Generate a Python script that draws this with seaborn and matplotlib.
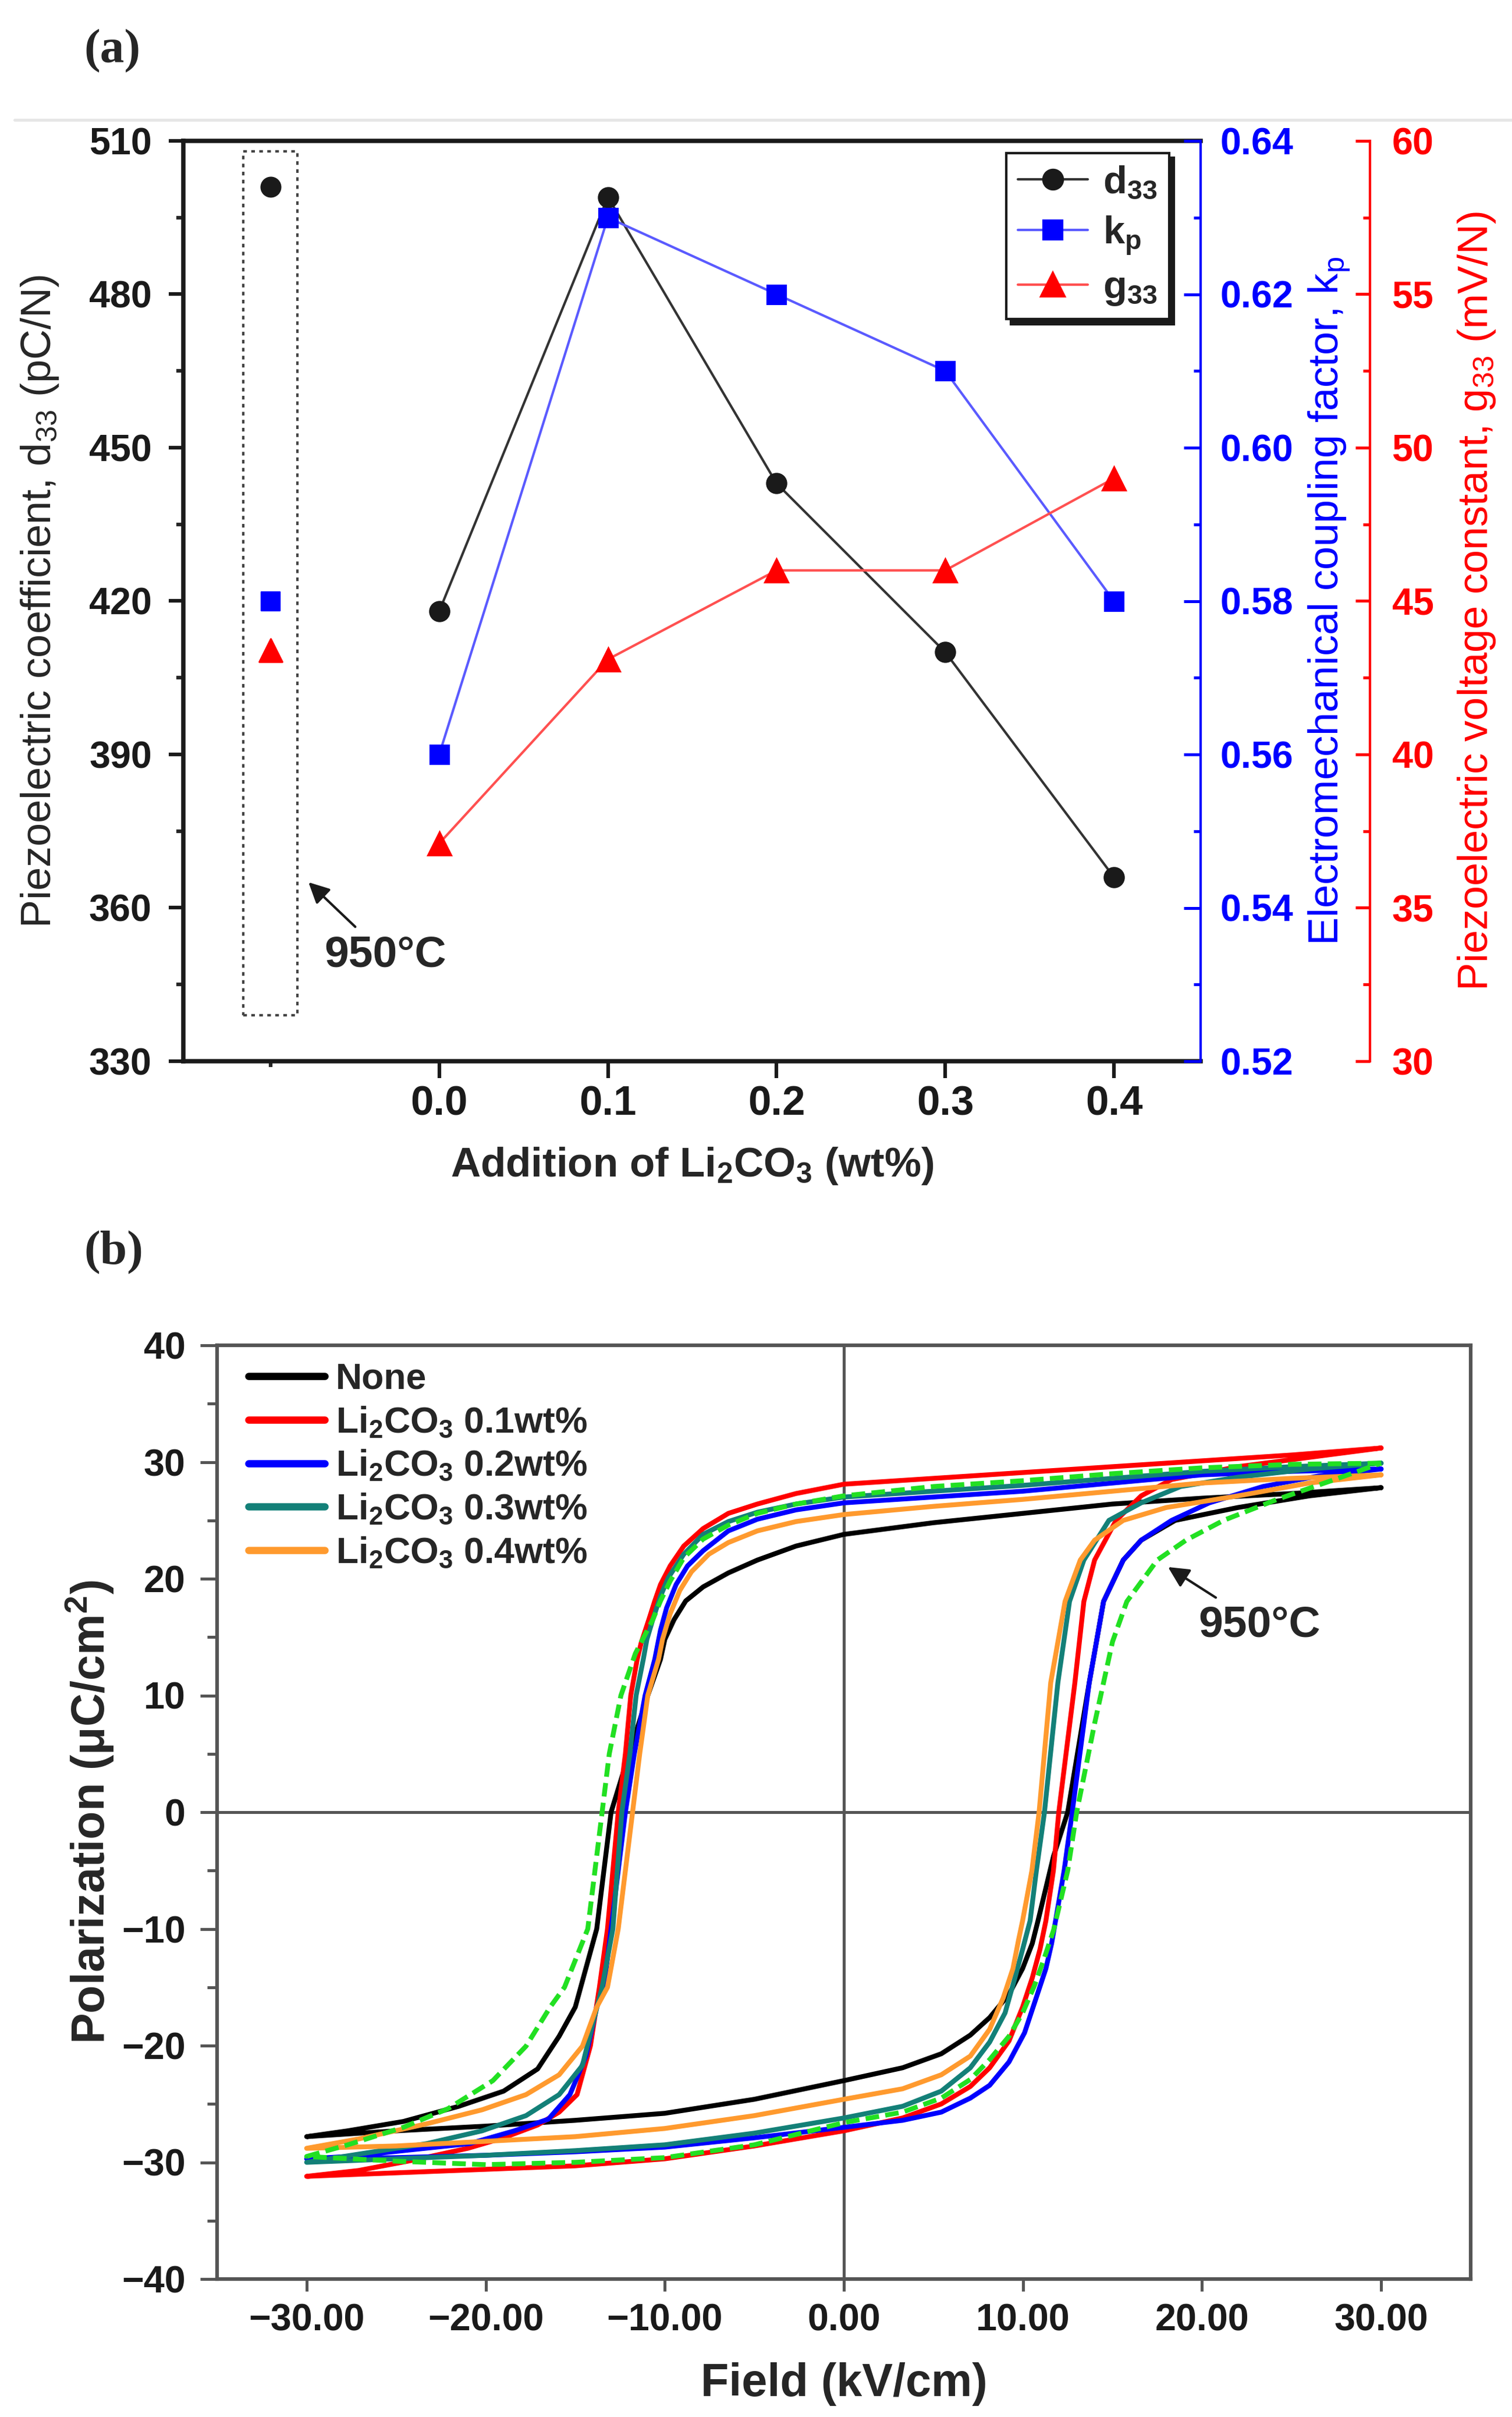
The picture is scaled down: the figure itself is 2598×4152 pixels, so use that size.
import numpy as np
import pandas as pd
import matplotlib
matplotlib.use("Agg")
import matplotlib.pyplot as plt
import seaborn as sns
from matplotlib.lines import Line2D
from matplotlib.patches import Rectangle
from matplotlib.ticker import MultipleLocator, FixedLocator, FormatStrFormatter, FuncFormatter

# ---------------- data: panel (a) ----------------
li2co3_wt = [0.0, 0.1, 0.2, 0.3, 0.4]
d33 = [418, 499, 443, 410, 366]
kp = [0.560, 0.630, 0.620, 0.610, 0.580]
g33 = [37.1, 43.1, 46.0, 46.0, 49.0]

# sample sintered at 950C (no Li2CO3), drawn left of the 0.0 tick
x_950 = -0.1
d33_950 = 501
kp_950 = 0.580
g33_950 = 43.4

# ---------------- data: panel (b) P-E loops, (E kV/cm, P uC/cm2) ----------------
# upper branch from +30 down to -30, then lower branch back up to +30
loop_none = [(30, 27.8), (25, 27.3), (20, 26.9), (15, 26.4), (10, 25.6), (5, 24.8), (0, 23.8),
             (-2.67, 22.8), (-4.83, 21.6), (-6.45, 20.5), (-7.86, 19.3), (-8.83, 18.1), (-9.48, 16.5),
             (-10.0, 14.8), (-10.24, 13.1), (-10.95, 10), (-12.0, 5), (-13.0, 0), (-13.8, -10),
             (-15.0, -16.7), (-15.9, -19.2), (-17.1, -22.0), (-19.0, -23.9), (-21.5, -25.2),
             (-24.6, -26.5), (-27.7, -27.3), (-30, -27.8),
             (-25, -27.3), (-20, -26.9), (-15, -26.4), (-10, -25.8), (-5, -24.6), (0, -23.0),
             (3.28, -21.9), (5.44, -20.7), (7.06, -19.1), (8.14, -17.6), (9.22, -15.6), (9.98, -13.4),
             (10.52, -11.25), (10.84, -9.3), (11.7, -3.8), (12.5, 0), (13.7, 11.1), (14.5, 18.05),
             (15.6, 21.6), (16.6, 23.3), (18.5, 25.0), (22.0, 26.1), (26, 27.1), (30, 27.8)]

loop_wt01 = [(30, 31.2), (25, 30.6), (20, 30.1), (15, 29.6), (10, 29.1), (5, 28.6), (0, 28.1),
             (-2.67, 27.3), (-4.83, 26.4), (-6.45, 25.6), (-7.86, 24.3), (-8.94, 22.8), (-9.7, 21.1),
             (-10.24, 19.5), (-10.56, 18.1), (-10.89, 16.5), (-11.32, 14.5), (-11.54, 13.1),
             (-11.9, 10), (-12.2, 5), (-12.6, 0), (-13.2, -10), (-13.65, -15), (-14.15, -20),
             (-14.9, -24.2), (-15.9, -25.7), (-17.1, -26.8), (-19.0, -27.9), (-21.0, -28.8),
             (-24.0, -29.8), (-27.1, -30.7), (-30, -31.2),
             (-25, -30.9), (-20, -30.6), (-15, -30.3), (-10, -29.7), (-5, -28.6), (0, -27.3),
             (3.28, -26.2), (5.44, -25.0), (7.06, -23.5), (8.14, -21.9), (9.22, -19.6), (9.98, -16.7),
             (10.52, -14.2), (10.95, -11.75), (11.28, -9.3), (11.7, -5), (12.0, 0), (12.9, 11.1),
             (13.4, 18.05), (14.0, 21.6), (15.2, 25.0), (16.6, 27.1), (18.3, 28.5), (22, 29.6),
             (26, 30.4), (30, 31.2)]

loop_wt02 = [(30, 29.4), (25, 29.2), (20, 28.9), (15, 28.2), (10, 27.5), (5, 27.0), (0, 26.5),
             (-2.67, 25.9), (-4.83, 25.1), (-6.45, 24.1), (-7.86, 22.4), (-8.73, 21.1), (-9.37, 19.5),
             (-9.9, 17.5), (-10.24, 15.6), (-10.56, 13.1), (-11.1, 10), (-11.7, 5), (-12.2, 0),
             (-13.0, -10), (-13.4, -15), (-13.8, -16.7), (-14.4, -20.9), (-15.3, -24.2),
             (-16.5, -26.3), (-18.4, -27.3), (-20.9, -28.4), (-24.6, -29.0), (-27.7, -29.5),
             (-30, -29.7),
             (-25, -29.6), (-20, -29.4), (-15, -29.1), (-10, -28.7), (-5, -27.9), (0, -27.0),
             (3.28, -26.4), (5.44, -25.7), (7.06, -24.5), (8.14, -23.4), (9.22, -21.4), (10.09, -18.9),
             (10.74, -15.9), (11.28, -13.4), (11.6, -11.25), (11.82, -9.3), (12.3, -5), (12.75, 0),
             (13.7, 11.1), (14.5, 18.05), (15.6, 21.6), (16.6, 23.3), (18.3, 25.0), (20.4, 26.5),
             (23.4, 27.9), (26.5, 28.8), (30, 29.4)]

loop_wt03 = [(30, 29.9), (25, 29.6), (20, 29.2), (15, 28.6), (10, 28.0), (5, 27.5), (0, 27.0),
             (-2.67, 26.4), (-4.83, 25.7), (-6.45, 24.9), (-7.86, 23.8), (-8.94, 22.1), (-9.8, 20.1),
             (-10.24, 18.5), (-10.67, 16.5), (-11.0, 14.8), (-11.2, 13.1), (-11.6, 10), (-11.95, 5),
             (-12.4, 0), (-12.9, -10), (-13.5, -15), (-14.0, -18), (-14.6, -21.7), (-15.9, -24.2),
             (-17.75, -26.0), (-20.2, -27.3), (-23.3, -28.4), (-27.1, -29.3), (-30, -30.0),
             (-25, -29.7), (-20, -29.4), (-15, -29.0), (-10, -28.5), (-5, -27.5), (0, -26.2),
             (3.28, -25.2), (5.44, -23.9), (7.06, -21.9), (8.14, -19.7), (9.0, -17.2), (9.55, -14.2),
             (9.98, -11.75), (10.4, -9.3), (10.75, -5), (11.2, 0), (11.95, 11.1), (12.6, 18.05),
             (13.4, 21.6), (14.8, 25.0), (16.6, 26.5), (18.8, 27.9), (22, 28.7), (26, 29.4), (30, 29.9)]

loop_wt04 = [(30, 28.9), (25, 28.6), (20, 28.2), (15, 27.5), (10, 26.8), (5, 26.2), (0, 25.5),
             (-2.67, 24.9), (-4.83, 24.1), (-6.45, 23.1), (-7.54, 22.1), (-8.51, 20.6), (-9.16, 19.0),
             (-9.7, 17.0), (-10.13, 14.8), (-10.35, 13.1), (-10.95, 10), (-11.4, 5), (-11.8, 0),
             (-12.6, -10), (-13.2, -15), (-13.8, -16.7), (-14.6, -20.05), (-15.9, -22.5),
             (-17.75, -24.2), (-20.2, -25.5), (-23.3, -26.7), (-27.1, -28.0), (-30, -28.8),
             (-25, -28.6), (-20, -28.2), (-15, -27.8), (-10, -27.1), (-5, -26.0), (0, -24.6),
             (3.28, -23.7), (5.44, -22.5), (7.06, -20.9), (8.14, -18.6), (8.9, -15.9), (9.44, -13.4),
             (9.76, -10.9), (9.98, -9.3), (10.5, -5), (10.9, 0), (11.55, 11.1), (12.35, 18.05),
             (13.2, 21.6), (14.0, 23.3), (15.6, 25.0), (18.0, 26.1), (22.0, 27.1), (26, 28.2), (30, 28.9)]

loop_950c = [(30, 29.9), (25, 29.8), (20, 29.5), (15, 29.0), (10, 28.4), (5, 27.9), (0, 27.1),
             (-2.67, 26.4), (-4.83, 25.6), (-6.45, 24.6), (-7.86, 23.4), (-8.94, 21.8), (-9.7, 19.8),
             (-10.24, 18.1), (-10.67, 16.5), (-11.64, 13.6), (-12.45, 10), (-13.1, 5), (-13.5, 0),
             (-14.3, -10), (-15.6, -15), (-16.4, -16.7), (-17.75, -20.05), (-19.6, -23.0),
             (-22.1, -25.4), (-24.6, -27.0), (-27.7, -28.5), (-30, -29.5),
             (-25, -29.9), (-20, -30.2), (-15, -30.0), (-10, -29.6), (-5, -28.5), (0, -26.6),
             (3.28, -25.7), (5.44, -24.5), (7.06, -22.9), (8.14, -21.2), (9.22, -19.2), (9.98, -17.2),
             (10.63, -14.9), (11.17, -12.6), (11.71, -10.1), (12.5, -5), (13.0, 0), (14.0, 7.6),
             (15.0, 14.6), (15.8, 18.05), (17.5, 21.6), (19.1, 23.3), (21.2, 25.0), (24.2, 26.8),
             (27.4, 28.5), (30, 29.9)]

loop_labels = ["None", "Li$_2$CO$_3$ 0.1wt%", "Li$_2$CO$_3$ 0.2wt%",
               "Li$_2$CO$_3$ 0.3wt%", "Li$_2$CO$_3$ 0.4wt%"]
loop_colors = ["#000000", "#ff0000", "#0000ff", "#138078", "#ff9a2e"]
c950_color = "#22e022"

# ---------------- style ----------------
sns.set_theme(style="ticks")
plt.rcParams["font.family"] = ["Liberation Sans", "DejaVu Sans"]
plt.rcParams["font.weight"] = "bold"
plt.rcParams["mathtext.default"] = "regular"

W, H = 2598, 4152
fig = plt.figure(figsize=(W / 300, H / 300), dpi=300)

# ================= panel (a) =================
ax = fig.add_axes([315 / W, 1 - 1823 / H, 1748 / W, 1581 / H])
ax2 = ax.twinx()
ax3 = ax.twinx()

sns.lineplot(x=li2co3_wt, y=d33, color="#333333", lw=1.0, marker="o", markersize=8,
             markerfacecolor="k", markeredgecolor="k", ax=ax)
sns.scatterplot(x=[x_950], y=[d33_950], marker="o", s=64, color="k", edgecolor="k", ax=ax)

sns.lineplot(x=li2co3_wt, y=kp, color="#5a5aff", lw=1.0, marker="s", markersize=7.5,
             markerfacecolor="#0000ff", markeredgecolor="#0000ff", ax=ax2)
sns.scatterplot(x=[x_950], y=[kp_950], marker="s", s=56, color="#0000ff", edgecolor="#0000ff", ax=ax2)

sns.lineplot(x=li2co3_wt, y=g33, color="#ff5050", lw=1.0, marker="^", markersize=9.5,
             markerfacecolor="#ff0000", markeredgecolor="#ff0000", ax=ax3)
sns.scatterplot(x=[x_950], y=[g33_950], marker="^", s=90, color="#ff0000", edgecolor="#ff0000", ax=ax3)

ax.set_xlim(-0.1517, 0.4514)
ax.set_ylim(330, 510)
ax2.set_ylim(0.52, 0.64)
ax3.set_ylim(30, 60)

ax.set_xticks(li2co3_wt)
ax.set_xticklabels([f"{v:.1f}" for v in li2co3_wt])
ax.xaxis.set_minor_locator(FixedLocator([x_950]))
ax.yaxis.set_major_locator(MultipleLocator(30))
ax.yaxis.set_minor_locator(MultipleLocator(15))
ax.tick_params(axis="y", which="major", direction="out", length=6, width=1.5, labelsize=15.5, pad=7,
               colors="k")
ax.tick_params(axis="y", which="minor", direction="out", length=3, width=1.5)
ax.tick_params(axis="x", which="major", direction="out", length=7, width=1.5, labelsize=17, pad=3,
               colors="k")
ax.tick_params(axis="x", which="minor", direction="out", length=2.5, width=1.5)
for s in ["left", "bottom", "top"]:
    ax.spines[s].set_linewidth(1.8)
    ax.spines[s].set_color("k")
ax.spines["right"].set_visible(False)

for a in (ax2, ax3):
    for s in ["left", "bottom", "top"]:
        a.spines[s].set_visible(False)

ax2.spines["right"].set_color("#0000ff")
ax2.spines["right"].set_linewidth(1.0)
ax2.yaxis.set_major_locator(MultipleLocator(0.02))
ax2.yaxis.set_minor_locator(MultipleLocator(0.01))
ax2.yaxis.set_major_formatter(FormatStrFormatter("%.2f"))
ax2.tick_params(axis="y", which="major", direction="in", length=7, width=1.2, labelsize=15.5, pad=8,
                colors="#0000ff")
ax2.tick_params(axis="y", which="minor", direction="in", length=3, width=1.2, colors="#0000ff")

ax3.spines["right"].set_position(("axes", 1.1665))
ax3.spines["right"].set_color("#ff0000")
ax3.spines["right"].set_linewidth(1.0)
ax3.yaxis.set_major_locator(MultipleLocator(5))
ax3.yaxis.set_minor_locator(MultipleLocator(2.5))
ax3.tick_params(axis="y", which="major", direction="in", length=6, width=1.2, labelsize=15.5, pad=9,
                colors="#ff0000")
ax3.tick_params(axis="y", which="minor", direction="in", length=3, width=1.2, colors="#ff0000")

ax.set_ylabel("Piezoelectric coefficient, d$_{33}$ (pC/N)", fontweight="normal", fontsize=17.3)
ax.yaxis.set_label_coords(-0.1207, 0.5)
ax2.set_ylabel("Electromechanical coupling factor, k$_{p}$", fontweight="normal", fontsize=17.3,
               color="#0000ff")
ax2.yaxis.set_label_coords(1.104, 0.5)
ax3.set_ylabel("Piezoelectric voltage constant, g$_{33}$ (mV/N)", fontweight="normal", fontsize=17.3,
               color="#ff0000")
ax3.yaxis.set_label_coords(1.251, 0.5)
ax.set_xlabel("Addition of Li$_2$CO$_3$ (wt%)", fontsize=17, fontweight="bold", labelpad=9)

# dotted box around the 950C sample
ax.add_patch(Rectangle((x_950 - 0.016, 339), 0.032, 169, fill=False, ls=(0, (1.5, 1.8)),
                       lw=1.0, ec="#444444", zorder=1))
ax.annotate("950°C", xy=(-0.0775, 365), xytext=(-0.032, 350.7), ha="center", va="center",
            fontsize=18, fontweight="bold",
            arrowprops=dict(arrowstyle="-|>", color="k", lw=1.0, mutation_scale=18, shrinkA=2, shrinkB=0))

handles_a = [
    Line2D([], [], color="#333333", lw=1.0, marker="o", ms=8, mfc="k", mec="k"),
    Line2D([], [], color="#5a5aff", lw=1.0, marker="s", ms=7.5, mfc="#0000ff", mec="#0000ff"),
    Line2D([], [], color="#ff5050", lw=1.0, marker="^", ms=9.5, mfc="#ff0000", mec="#ff0000"),
]
leg_a = ax3.legend(handles_a, ["d$_{33}$", "k$_{p}$", "g$_{33}$"], loc="upper right",
                   bbox_to_anchor=(0.969, 0.9867), frameon=True, fancybox=False, framealpha=1,
                   shadow={"color": "k", "alpha": 1}, edgecolor="k", fontsize=16,
                   handlelength=1.8, handletextpad=0.4, borderpad=0.3, labelspacing=0.35,
                   borderaxespad=0)
leg_a.get_frame().set_linewidth(1.0)

# ================= panel (b) =================
axb = fig.add_axes([373 / W, 1 - 3915 / H, 2154 / W, 1604 / H])
axb.axhline(0, color="#555555", lw=1.2, zorder=0)
axb.axvline(0, color="#555555", lw=1.2, zorder=0)

loops = [loop_none, loop_wt01, loop_wt02, loop_wt03, loop_wt04]
for loop, c in zip(loops, loop_colors):
    E, P = zip(*loop)
    sns.lineplot(x=list(E), y=list(P), sort=False, estimator=None, color=c, lw=2.0, ax=axb)
E950, P950 = zip(*loop_950c)
sns.lineplot(x=list(E950), y=list(P950), sort=False, estimator=None, color=c950_color, lw=2.0,
             linestyle=(0, (2.8, 1.3)), ax=axb)

axb.set_xlim(-35, 35)
axb.set_ylim(-40, 40)
axb.xaxis.set_major_locator(MultipleLocator(10))
axb.xaxis.set_major_formatter(FuncFormatter(lambda v, pos: f"{v:.2f}".replace("-", "\u2212")))
axb.yaxis.set_major_locator(MultipleLocator(10))
axb.yaxis.set_minor_locator(MultipleLocator(5))
for s in axb.spines.values():
    s.set_color("#555555")
    s.set_linewidth(1.5)
axb.tick_params(axis="x", which="major", direction="out", length=5, width=1.2, color="#555555",
                labelsize=15.5, pad=5, labelcolor="k")
axb.tick_params(axis="y", which="major", direction="out", length=7, width=1.2, color="#555555",
                labelsize=15.5, pad=6, labelcolor="k")
axb.tick_params(axis="y", which="minor", direction="out", length=4, width=1.2, color="#555555")
axb.set_xlabel("Field (kV/cm)", fontsize=19, fontweight="bold", labelpad=10)
axb.set_ylabel("Polarization (μC/cm$^2$)", fontsize=19, fontweight="bold")
axb.yaxis.set_label_coords(-0.0808, 0.5)

handles_b = [Line2D([], [], color=c, lw=3) for c in loop_colors]
axb.legend(handles_b, loop_labels, loc="upper left", bbox_to_anchor=(0.025, 0.982), frameon=False,
           fontsize=15, handlelength=2.1, handletextpad=0.3, labelspacing=0.25, borderpad=0,
           borderaxespad=0)

axb.annotate("950°C", xy=(18.1, 21.0), xytext=(23.2, 16.0), ha="center", va="center",
             fontsize=18, fontweight="bold",
             arrowprops=dict(arrowstyle="-|>", color="k", lw=1.0, mutation_scale=18, shrinkA=2, shrinkB=0))

# ================= headers / separator =================
serif = ["Liberation Serif", "DejaVu Serif"]
fig.text(144 / W, 1 - 88 / H, "(a)", fontfamily=serif, fontweight="bold", fontsize=20, ha="left", va="center")
fig.text(144 / W, 1 - 2152 / H, "(b)", fontfamily=serif, fontweight="bold", fontsize=20, ha="left", va="center")
fig.add_artist(Line2D([0.0096, 1.0], [1 - 206 / H, 1 - 206 / H], transform=fig.transFigure,
                      color="#e6e6e6", lw=1.2))

fig.savefig("out.png", dpi=300)
